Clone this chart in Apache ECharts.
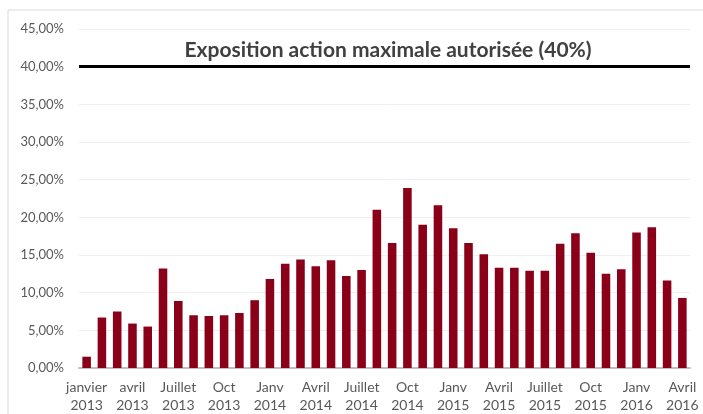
<!DOCTYPE html>
<html>
<head>
<meta charset="utf-8">
<script src="https://cdn.jsdelivr.net/npm/echarts@6/dist/echarts.min.js"></script>
<style>
	html, body { margin: 0; padding: 0; background: #fff; }
	#chart { width: 703px; height: 414px; }
</style>
</head>
<body>
<div id="chart"></div>
<script>
	// mois, de janvier 2013 à avril 2016
	const categories = [
		'janvier\n2013', 'févr\n2013', 'mars\n2013', 'avril\n2013', 'mai\n2013', 'juin\n2013',
		'Juillet\n2013', 'août\n2013', 'sept\n2013', 'Oct\n2013', 'nov\n2013', 'déc\n2013',
		'Janv\n2014', 'févr\n2014', 'mars\n2014', 'Avril\n2014', 'mai\n2014', 'juin\n2014',
		'Juillet\n2014', 'août\n2014', 'sept\n2014', 'Oct\n2014', 'nov\n2014', 'déc\n2014',
		'Janv\n2015', 'févr\n2015', 'mars\n2015', 'Avril\n2015', 'mai\n2015', 'juin\n2015',
		'Juillet\n2015', 'août\n2015', 'sept\n2015', 'Oct\n2015', 'nov\n2015', 'déc\n2015',
		'Janv\n2016', 'févr\n2016', 'mars\n2016', 'Avril\n2016'
	];
	// exposition action (%)
	const exposition = [
		1.5, 6.7, 7.5, 5.9, 5.5, 13.2, 8.9, 7.0, 6.9, 7.0, 7.3, 9.0,
		11.8, 13.85, 14.4, 13.5, 14.3, 12.2, 13.0, 21.0, 16.6, 23.9, 19.0, 21.6,
		18.55, 16.6, 15.1, 13.3, 13.3, 12.9, 12.9, 16.5, 17.9, 15.3, 12.5, 13.1,
		18.0, 18.7, 11.6, 9.3
	];
	const limite = 40;
	const yTicks = { min: 0, max: 45, interval: 5 };
	const titre = 'Exposition action maximale autorisée (40%)';

	const font = 'Lato, "Open Sans", sans-serif';
	let myChart = echarts.init(document.getElementById('chart'));
	myChart.setOption({
		animation: false,
		title: {
			text: titre,
			left: 383,
			top: 35,
			textAlign: 'center',
			textStyle: { fontFamily: font, fontSize: 21, fontWeight: 'bold', color: '#404040' }
		},
		graphic: [{
			type: 'rect',
			shape: { x: 8, y: 10, width: 720, height: 420 },
			style: { fill: 'none', stroke: '#d9d9d9', lineWidth: 1 },
			silent: true
		}],
		grid: { left: 79, right: 13, top: 29, bottom: 46 },
		xAxis: {
			type: 'category',
			data: categories,
			axisTick: { show: false },
			axisLine: { lineStyle: { color: '#bfbfbf', width: 2 } },
			axisLabel: {
				interval: 2,
				margin: 10,
				lineHeight: 18,
				fontFamily: font,
				fontSize: 14,
				color: '#595959'
			}
		},
		yAxis: {
			type: 'value',
			min: yTicks.min,
			max: yTicks.max,
			interval: yTicks.interval,
			axisLine: { show: false },
			axisTick: { show: false },
			splitLine: { lineStyle: { color: '#efefef' } },
			axisLabel: {
				margin: 15,
				fontFamily: font,
				fontSize: 13,
				color: '#595959',
				formatter: v => v.toFixed(2).replace('.', ',') + '%'
			}
		},
		series: [{
			type: 'bar',
			data: exposition,
			barCategoryGap: '44%',
			itemStyle: { color: '#8a0019' },
			markLine: {
				silent: true,
				symbol: 'none',
				label: { show: false },
				lineStyle: { color: '#000', width: 3, type: 'solid' },
				data: [{ yAxis: limite }]
			}
		}]
	});
</script>
</body>
</html>
